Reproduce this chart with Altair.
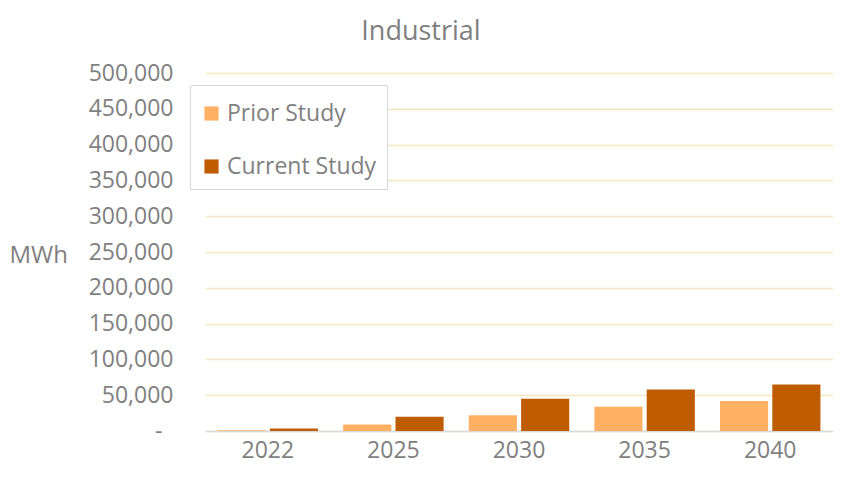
import altair as alt
import pandas as pd

years = ["2022", "2025", "2030", "2035", "2040"]
prior_study = [1000, 9000, 22000, 34000, 42000]
current_study = [3500, 20000, 45000, 58000, 65000]
series_names = ["Prior Study", "Current Study"]
y_ticks = [0, 50000, 100000, 150000, 200000, 250000, 300000, 350000, 400000, 450000, 500000]

rows = []
for i, y in enumerate(years):
    rows.append({"year": y, "series": series_names[0], "value": prior_study[i]})
    rows.append({"year": y, "series": series_names[1], "value": current_study[i]})
df = pd.DataFrame(rows)

FONT = "Open Sans"
GRAY = "#7f7f7f"

chart = alt.Chart(df).mark_bar().encode(
    x=alt.X("year:N", sort=years,
            scale=alt.Scale(paddingInner=0.2, paddingOuter=0.1),
            axis=alt.Axis(title=None, labelAngle=0, labelFontSize=23, labelColor=GRAY,
                          labelFont=FONT, ticks=False, domainColor="#d9d9d9",
                          domainWidth=1.5, labelPadding=8)),
    xOffset=alt.XOffset("series:N", sort=series_names, scale=alt.Scale(paddingInner=0.08)),
    y=alt.Y("value:Q",
            scale=alt.Scale(domain=[0, 500000], nice=False),
            axis=alt.Axis(values=y_ticks, title="MWh", titleAngle=0, titleFontSize=24,
                          titleFontWeight="normal", titleColor=GRAY, titleFont=FONT,
                          titleX=-196, titleY=182, titleAlign="left", titleBaseline="middle",
                          labelFontSize=23, labelColor=GRAY, labelFont=FONT,
                          labelExpr="datum.value == 0 ? '-' : format(datum.value, ',')",
                          domain=False, ticks=False,
                          labelPadding={"condition": {"test": "datum.value == 0", "value": 43}, "value": 32},
                          gridColor="#fbe5c0", gridWidth=1.5)),
    color=alt.Color("series:N", sort=series_names,
                    scale=alt.Scale(domain=series_names, range=["#ffb062", "#c05c00"]),
                    legend=alt.Legend(title=" ", titleFontSize=4, titlePadding=3,
                                      orient="none", legendX=-15, legendY=12,
                                      labelFontSize=23, labelColor=GRAY, labelFont=FONT,
                                      symbolType="square", symbolSize=200, symbolStrokeWidth=0,
                                      rowPadding=29, padding=10, fillColor="white",
                                      strokeColor="#d9d9d9", labelOffset=4)),
).properties(
    width=628, height=358,
    title=alt.TitleParams("Industrial", fontSize=27, font=FONT, color=GRAY,
                          fontWeight="normal", anchor="middle", dx=-98, offset=16),
    autosize=alt.AutoSizeParams(type="none"),
    padding={"left": 197, "top": 65, "right": 0, "bottom": 39},
).configure_view(stroke=None)

chart.save("out.html", embed_options={"renderer": "svg", "actions": False})
